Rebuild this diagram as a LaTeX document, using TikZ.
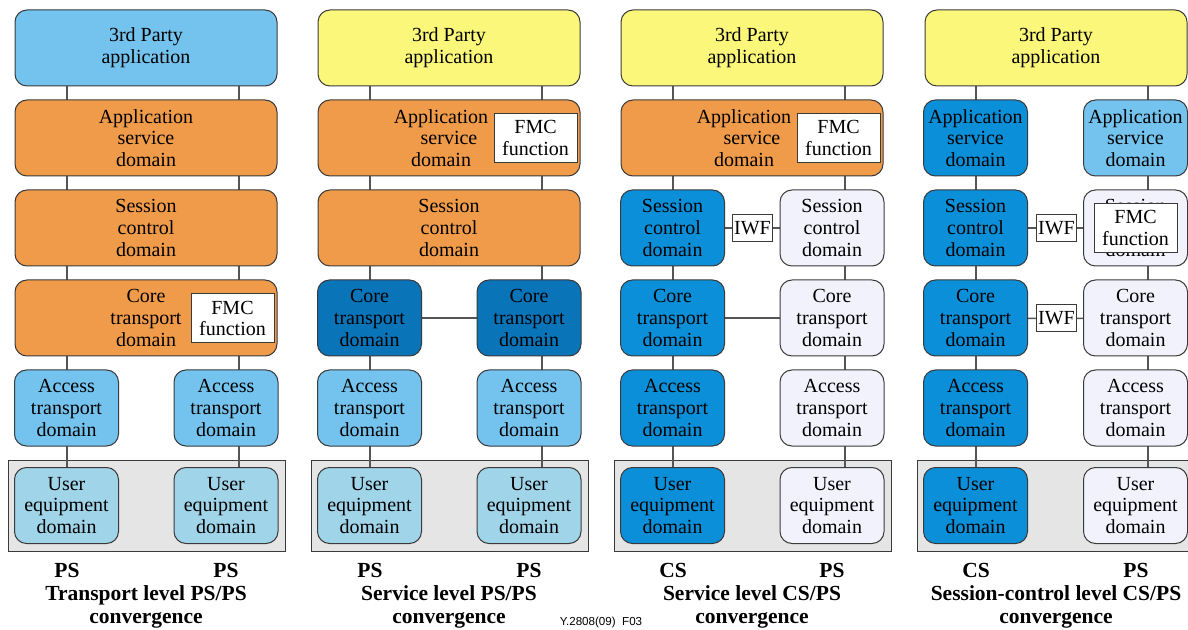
\documentclass[tikz,border=0pt]{standalone}
\usepackage{fontspec}
\setmainfont{Liberation Serif}
\newfontfamily\idfont{Liberation Sans}
\usetikzlibrary{backgrounds}
\definecolor{skyblue}{HTML}{74C3EE}
\definecolor{paleblue}{HTML}{A0D4E9}
\definecolor{fmcorange}{HTML}{F09B4A}
\definecolor{lemon}{HTML}{FAF77A}
\definecolor{deepblue}{HTML}{0A74B9}
\definecolor{csblue}{HTML}{0A8FD8}
\definecolor{lavender}{HTML}{F2F2FC}
\definecolor{panelgrey}{HTML}{E5E5E5}
\definecolor{edgegrey}{HTML}{3A3A3A}
\definecolor{linkgrey}{HTML}{555555}
\newcommand{\domfont}{\fontsize{10}{10.85}\selectfont}
\newcommand{\captfont}{\bfseries\fontsize{10.75}{11.6}\selectfont}
\newcommand{\padr}{\hspace*{8pt}}

\begin{document}
\begin{tikzpicture}[x=0.5pt, y=-0.5pt,
  dom/.style={draw=edgegrey, line width=0.5pt, rounded corners=6pt, align=center, inner sep=0pt, font=\domfont, minimum height=38pt},
  wide/.style={dom, minimum width=131pt},
  narrow/.style={dom, minimum width=52pt},
  fmc/.style={draw=edgegrey, line width=0.5pt, fill=white, align=center, inner sep=0pt, font=\domfont, minimum width=41.5pt, minimum height=24.5pt},
  iwf/.style={draw=edgegrey, line width=0.5pt, fill=white, inner sep=0pt, font=\domfont, minimum width=20pt, minimum height=13.5pt},
  link/.style={draw=linkgrey, line width=0.8pt},
  panel/.style={draw=edgegrey, line width=0.5pt, fill=panelgrey},
  capt/.style={align=center, inner sep=0pt, font=\captfont}]
  \useasboundingbox (0,0) rectangle (1188,630);

  % transport level PS/PS
  \node[wide, fill=skyblue] (tp1) at (146,48) {3rd Party\\application};
  \node[wide, fill=fmcorange] (as1) at (146,138) {Application\\service\\domain};
  \node[wide, fill=fmcorange] (sc1) at (146,228) {Session\\control\\domain};
  \node[wide, fill=fmcorange] (ct1) at (146,318) {Core\\transport\\domain};
  \node[fmc] (fmc1) at (232.5,318.5) {FMC\\function};
  \node[narrow, fill=skyblue] (at1l) at (66.5,408) {Access\\transport\\domain};
  \node[narrow, fill=skyblue] (at1r) at (226,408) {Access\\transport\\domain};
  \node[narrow, fill=paleblue] (ue1l) at (66.5,505.5) {User\\equipment\\domain};
  \node[narrow, fill=paleblue] (ue1r) at (226,505.5) {User\\equipment\\domain};
  \node[capt] (ps1l) at (67,570) {PS};
  \node[capt] (ps1r) at (226,570) {PS};
  \node[capt] (lvl1) at (146,607) {Transport level PS/PS\\convergence};

  % service level PS/PS
  \node[wide, fill=lemon] (tp2) at (449,48) {3rd Party\\application};
  \node[wide, fill=fmcorange] (as2) at (449,138) {Application\padr\\service\padr\\domain\padr};
  \node[fmc] (fmc2) at (535.5,138) {FMC\\function};
  \node[wide, fill=fmcorange] (sc2) at (449,228) {Session\\control\\domain};
  \node[narrow, fill=deepblue] (ct2l) at (369.5,318) {Core\\transport\\domain};
  \node[narrow, fill=deepblue] (ct2r) at (529,318) {Core\\transport\\domain};
  \node[narrow, fill=skyblue] (at2l) at (369.5,408) {Access\\transport\\domain};
  \node[narrow, fill=skyblue] (at2r) at (529,408) {Access\\transport\\domain};
  \node[narrow, fill=paleblue] (ue2l) at (369.5,505.5) {User\\equipment\\domain};
  \node[narrow, fill=paleblue] (ue2r) at (529,505.5) {User\\equipment\\domain};
  \node[capt] (ps2l) at (370,570) {PS};
  \node[capt] (ps2r) at (529,570) {PS};
  \node[capt] (lvl2) at (449,607) {Service level PS/PS\\convergence};

  % service level CS/PS
  \node[wide, fill=lemon] (tp3) at (752,48) {3rd Party\\application};
  \node[wide, fill=fmcorange] (as3) at (752,138) {Application\padr\\service\padr\\domain\padr};
  \node[fmc] (fmc3) at (838.5,138) {FMC\\function};
  \node[narrow, fill=csblue] (sc3l) at (672.5,228) {Session\\control\\domain};
  \node[iwf] (iwf3) at (752.5,228) {IWF};
  \node[narrow, fill=lavender] (sc3r) at (832,228) {Session\\control\\domain};
  \node[narrow, fill=csblue] (ct3l) at (672.5,318) {Core\\transport\\domain};
  \node[narrow, fill=lavender] (ct3r) at (832,318) {Core\\transport\\domain};
  \node[narrow, fill=csblue] (at3l) at (672.5,408) {Access\\transport\\domain};
  \node[narrow, fill=lavender] (at3r) at (832,408) {Access\\transport\\domain};
  \node[narrow, fill=csblue] (ue3l) at (672.5,505.5) {User\\equipment\\domain};
  \node[narrow, fill=lavender] (ue3r) at (832,505.5) {User\\equipment\\domain};
  \node[capt] (ps3l) at (673,570) {CS};
  \node[capt] (ps3r) at (832,570) {PS};
  \node[capt] (lvl3) at (752,607) {Service level CS/PS\\convergence};

  % session-control level CS/PS
  \node[wide, fill=lemon] (tp4) at (1056,48) {3rd Party\\application};
  \node[narrow, fill=csblue] (as4l) at (975.5,138) {Application\\service\\domain};
  \node[narrow, fill=skyblue] (as4r) at (1135.5,138) {Application\\service\\domain};
  \node[narrow, fill=csblue] (sc4l) at (975.5,228) {Session\\control\\domain};
  \node[iwf] (iwf4a) at (1056.5,228) {IWF};
  \node[narrow, fill=lavender] (sc4r) at (1135.5,228) {Session\\control\\domain};
  \node[fmc] (fmc4) at (1135.5,228) {FMC\\function};
  \node[narrow, fill=csblue] (ct4l) at (975.5,318) {Core\\transport\\domain};
  \node[iwf] (iwf4b) at (1056.5,318.5) {IWF};
  \node[narrow, fill=lavender] (ct4r) at (1135.5,318) {Core\\transport\\domain};
  \node[narrow, fill=csblue] (at4l) at (975.5,408) {Access\\transport\\domain};
  \node[narrow, fill=lavender] (at4r) at (1135.5,408) {Access\\transport\\domain};
  \node[narrow, fill=csblue] (ue4l) at (975.5,505.5) {User\\equipment\\domain};
  \node[narrow, fill=lavender] (ue4r) at (1135.5,505.5) {User\\equipment\\domain};
  \node[capt] (ps4l) at (976,570) {CS};
  \node[capt] (ps4r) at (1136,570) {PS};
  \node[capt] (lvl4) at (1056,607) {Session-control level CS/PS\\convergence};

  \node[font=\idfont\fontsize{5.8}{7}\selectfont, inner sep=0pt] (figid) at (601,622) {Y.2808(09)\ \ F03};

  \begin{scope}[on background layer]
    \foreach \off [count=\n] in {0,303,606,909} {
      \draw[panel] (8+\off,460) rectangle (285+\off,551);
      \coordinate (left\n) at (67+\off,0);
      \coordinate (right\n) at (239+\off,0);
      \draw[link] (tp\n.south -| left\n) -- (ue\n l.north -| left\n);
      \draw[link] (tp\n.south -| right\n) -- (ue\n r.north -| right\n);
    }
    \draw[link] (ct2l) -- (ct2r);
    \draw[link] (sc3l) -- (iwf3) -- (sc3r);
    \draw[link] (ct3l) -- (ct3r);
    \draw[link] (sc4l) -- (iwf4a) -- (sc4r);
    \draw[link] (ct4l) -- (iwf4b) -- (ct4r);
  \end{scope}
\end{tikzpicture}
\end{document}
